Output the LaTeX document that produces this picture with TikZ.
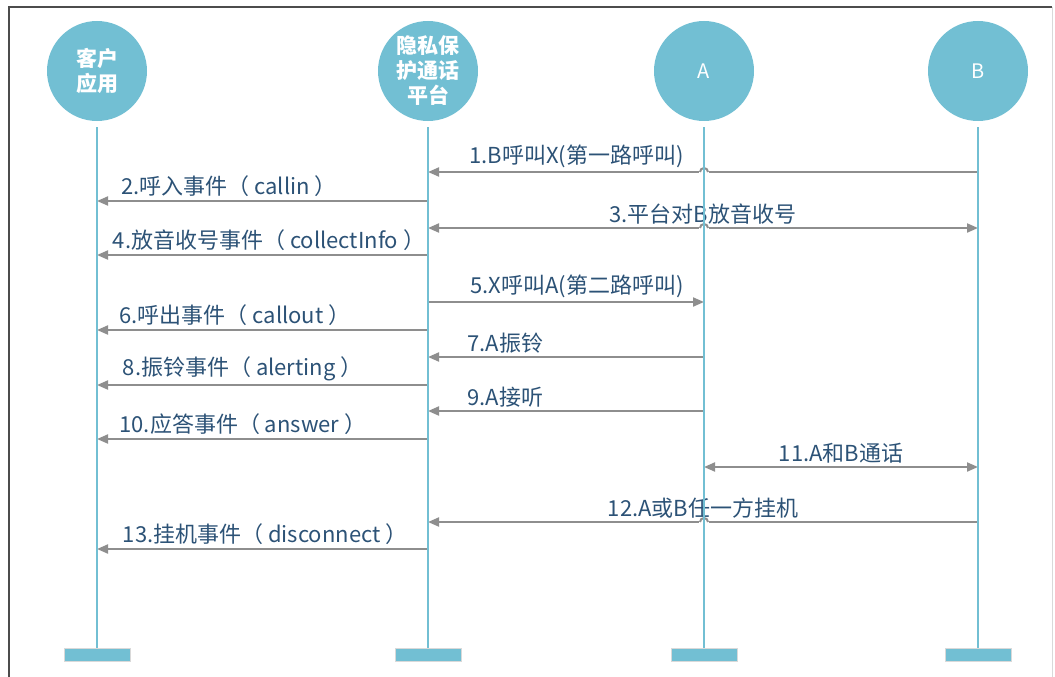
\documentclass[tikz,border=0pt]{standalone}
\usepackage{fontspec}
\setmainfont{Noto Sans CJK SC}
\usetikzlibrary{arrows.meta, positioning}

\definecolor{lifeblue}{HTML}{72BFD3}
\definecolor{msggray}{HTML}{8E8E8E}
\definecolor{lbltext}{HTML}{2C5276}

\tikzset{
  party/.style = {circle, fill=lifeblue, minimum size=100pt, inner sep=0pt,
                  text=white, align=center, font=\fontsize{21}{25}\selectfont\bfseries},
  endbox/.style = {rectangle, fill=lifeblue, draw=black!15, line width=1pt,
                   minimum width=66pt, minimum height=13pt, inner sep=0pt},
  lifeline/.style = {lifeblue, line width=2.6pt},
  msg/.style = {msggray, line width=2pt, -{Triangle[length=11pt, width=9pt]}},
  dmsg/.style = {msggray, line width=2pt, {Triangle[length=11pt, width=9pt]}-{Triangle[length=11pt, width=9pt]}},
  lbl/.style = {text=lbltext, font=\fontsize{22}{24}\selectfont, inner sep=3pt},
  hop/.style = {msggray, line width=2pt}
}

\begin{document}
\begin{tikzpicture} [x=1pt, y=-1pt]
    \useasboundingbox (0,0) rectangle (1055,677);

    % frame
    \draw [black!70, line width=1.3pt] (9,677) -- (9,7) -- (1052,7);
    \draw [black!15, line width=1pt] (1052,7) -- (1052,677);

    % parties
    \node (client) [party] at (97,71) {客户\\应用};
    \node (platform) [party] at (428,71) {隐私保\\护通话\\平台};
    \node (nodeA) [party, font=\fontsize{20}{24}\selectfont] at (704,71) {A};
    \node (nodeB) [party, font=\fontsize{20}{24}\selectfont] at (978,71) {B};

    \node (clientEnd) [endbox] at (97,654.5) {};
    \node (platformEnd) [endbox] at (428,654.5) {};
    \node (nodeAEnd) [endbox] at (704,654.5) {};
    \node (nodeBEnd) [endbox] at (978,654.5) {};

    % message rows
    \coordinate (m1) at (0,172);
    \coordinate (m2) at (0,201);
    \coordinate (m3) at (0,228);
    \coordinate (m4) at (0,255);
    \coordinate (m5) at (0,302);
    \coordinate (m6) at (0,330);
    \coordinate (m7) at (0,357);
    \coordinate (m8) at (0,385);
    \coordinate (m9) at (0,411);
    \coordinate (m10) at (0,439);
    \coordinate (m11) at (0,467);
    \coordinate (m12) at (0,522);
    \coordinate (m13) at (0,549);

    \draw [msg] (nodeB |- m1) -- node [lbl, above, pos=.73] {1.B呼叫X(第一路呼叫)} (platform |- m1);
    \draw [msg] (platform |- m2) -- node [lbl, above right, pos=.93, inner xsep=0pt] {2.呼入事件（ callin ）} (client |- m2);
    \draw [dmsg] (platform |- m3) -- node [lbl, above] {3.平台对B放音收号} (nodeB |- m3);
    \draw [msg] (platform |- m4) -- node [lbl, above right, pos=.955, inner xsep=0pt] {4.放音收号事件（ collectInfo ）} (client |- m4);
    \draw [msg] (platform |- m5) -- node [lbl, above, pos=.54] {5.X呼叫A(第二路呼叫)} (nodeA |- m5);
    \draw [msg] (platform |- m6) -- node [lbl, above right, pos=.935, inner xsep=0pt] {6.呼出事件（ callout ）} (client |- m6);
    \draw [msg] (nodeA |- m7) -- node [lbl, above, pos=.72] {7.A振铃} (platform |- m7);
    \draw [msg] (platform |- m8) -- node [lbl, above right, pos=.925, inner xsep=0pt] {8.振铃事件（ alerting ）} (client |- m8);
    \draw [msg] (nodeA |- m9) -- node [lbl, above, pos=.72] {9.A接听} (platform |- m9);
    \draw [msg] (platform |- m10) -- node [lbl, above right, pos=.935, inner xsep=0pt] {10.应答事件（ answer ）} (client |- m10);
    \draw [dmsg] (nodeA |- m11) -- node [lbl, above] {11.A和B通话} (nodeB |- m11);
    \draw [msg] (nodeB |- m12) -- node [lbl, above] {12.A或B任一方挂机} (platform |- m12);
    \draw [msg] (platform |- m13) -- node [lbl, above right, pos=.925, inner xsep=0pt] {13.挂机事件（ disconnect ）} (client |- m13);

    % hops over the A lifeline
    \foreach \row in {m1, m3, m12} {
        \fill [white] ([xshift=-5pt, yshift=-2pt]nodeA |- \row) rectangle ([xshift=5pt, yshift=2pt]nodeA |- \row);
        \draw [hop] ([xshift=-4pt]nodeA |- \row) arc [start angle=180, end angle=0, radius=4pt];
    }

    % lifelines
    \draw [lifeline, shorten <=6pt] (client) -- (clientEnd);
    \draw [lifeline, shorten <=6pt] (platform) -- (platformEnd);
    \draw [lifeline, shorten <=6pt] (nodeA) -- (nodeAEnd);
    \draw [lifeline, shorten <=6pt] (nodeB) -- (nodeBEnd);
\end{tikzpicture}
\end{document}
